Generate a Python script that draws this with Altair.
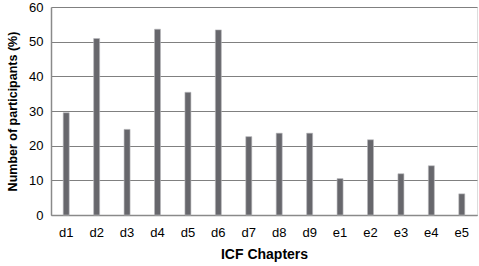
import altair as alt
import pandas as pd

chapters = ["d1", "d2", "d3", "d4", "d5", "d6", "d7", "d8", "d9", "e1", "e2", "e3", "e4", "e5"]
percent = [29.5, 50.9, 24.7, 53.6, 35.4, 53.4, 22.6, 23.6, 23.6, 10.5, 21.7, 11.9, 14.2, 6.1]

df = pd.DataFrame({"chapter": chapters, "pct": percent})

font = "Liberation Sans"

chart = alt.Chart(df).mark_bar(size=6, color="#67676c", stroke="#b8b8bc", strokeWidth=0.6).encode(
    x=alt.X("chapter:N", sort=chapters, title="ICF Chapters",
            axis=alt.Axis(labelAngle=0, ticks=False, domainColor="#8a8a8a", domainWidth=1.5,
                          labelFont=font, labelFontSize=13, labelColor="#000000", labelPadding=11,
                          titleFont=font, titleFontSize=14, titleFontWeight="bold", titleColor="#000000",
                          titlePadding=8),
            scale=alt.Scale(paddingInner=0.8, paddingOuter=0.4)),
    y=alt.Y("pct:Q", title="Number of participants (%)",
            scale=alt.Scale(domain=[0, 60], nice=False),
            axis=alt.Axis(values=[0, 10, 20, 30, 40, 50, 60], ticks=False, domainColor="#8a8a8a",
                          domainWidth=1.5, grid=True, gridColor="#808080", gridWidth=1.2,
                          labelFont=font, labelFontSize=13, labelColor="#000000", labelPadding=8,
                          titleFont=font, titleFontSize=12.5, titleFontWeight="bold", titleColor="#000000",
                          titlePadding=9)),
).properties(
    width=426, height=208,
    autosize=alt.AutoSizeParams(type="none"),
    padding={"left": 51, "top": 7, "right": 2, "bottom": 51},
).configure_view(stroke=None).configure(background="white")

chart.save("out.html", embed_options={"renderer": "svg", "actions": False})
